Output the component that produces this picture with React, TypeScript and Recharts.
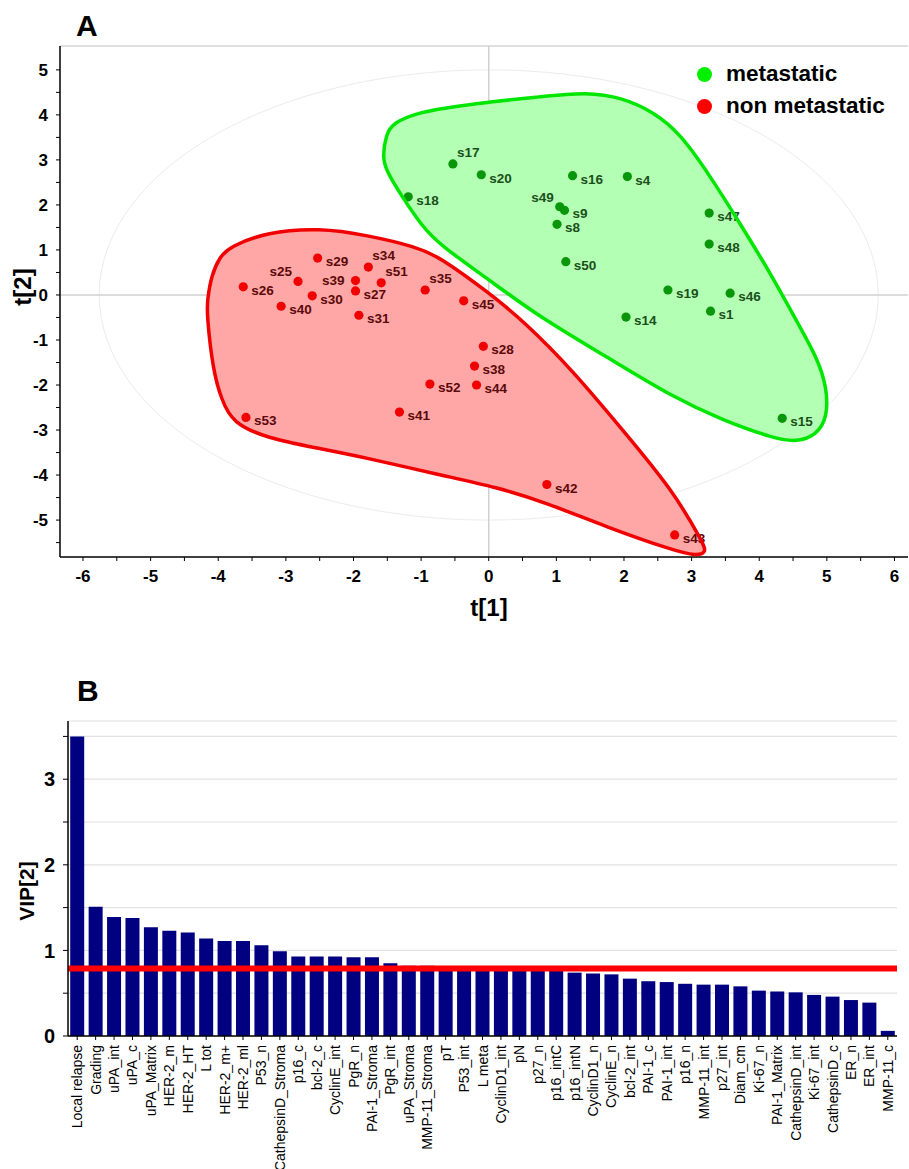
import React from "react";
import {
  Bar, BarChart, CartesianGrid, ReferenceArea, ReferenceLine, Scatter, ScatterChart, XAxis, YAxis,
} from "recharts";

const FONT = "'Liberation Sans', Arial, sans-serif";

// --- A: PLS-DA score plot t[1] / t[2]
const metastatic = [
  { name: "s17", x: -0.53, y: 2.91 }, { name: "s20", x: -0.11, y: 2.67 },
  { name: "s16", x: 1.24, y: 2.65 }, { name: "s4", x: 2.05, y: 2.63 },
  { name: "s49", x: 1.05, y: 1.96 }, { name: "s9", x: 1.12, y: 1.88 },
  { name: "s8", x: 1.01, y: 1.57 }, { name: "s47", x: 3.26, y: 1.82 },
  { name: "s48", x: 3.26, y: 1.13 }, { name: "s50", x: 1.14, y: 0.74 },
  { name: "s19", x: 2.65, y: 0.11 }, { name: "s46", x: 3.57, y: 0.04 },
  { name: "s1", x: 3.28, y: -0.36 }, { name: "s14", x: 2.03, y: -0.49 },
  { name: "s15", x: 4.34, y: -2.74 }, { name: "s18", x: -1.19, y: 2.18 },
];

const nonMetastatic = [
  { name: "s26", x: -3.63, y: 0.18 }, { name: "s25", x: -2.82, y: 0.3 },
  { name: "s29", x: -2.53, y: 0.82 }, { name: "s30", x: -2.61, y: -0.02 },
  { name: "s40", x: -3.07, y: -0.25 }, { name: "s39", x: -1.97, y: 0.32 },
  { name: "s27", x: -1.97, y: 0.09 }, { name: "s34", x: -1.78, y: 0.62 },
  { name: "s51", x: -1.59, y: 0.27 }, { name: "s31", x: -1.92, y: -0.45 },
  { name: "s35", x: -0.94, y: 0.11 }, { name: "s52", x: -0.87, y: -1.98 },
  { name: "s41", x: -1.32, y: -2.6 }, { name: "s53", x: -3.59, y: -2.72 },
  { name: "s45", x: -0.37, y: -0.13 }, { name: "s28", x: -0.08, y: -1.14 },
  { name: "s38", x: -0.21, y: -1.58 }, { name: "s44", x: -0.18, y: -2.0 },
  { name: "s42", x: 0.86, y: -4.21 }, { name: "s43", x: 2.75, y: -5.33 },
];

// hand traced group outlines (score units)
const greenHull = [
  { x: -1.57, y: 3.07 }, { x: -1.52, y: 3.56 }, { x: -1.42, y: 3.82 }, { x: -1.02, y: 4.07 },
  { x: -0.43, y: 4.2 }, { x: 0.01, y: 4.29 }, { x: 0.75, y: 4.4 }, { x: 1.45, y: 4.51 },
  { x: 1.98, y: 4.38 }, { x: 2.43, y: 4.07 }, { x: 2.83, y: 3.6 }, { x: 3.31, y: 2.56 },
  { x: 3.71, y: 1.6 }, { x: 4.2, y: 0.4 }, { x: 4.6, y: -0.71 }, { x: 4.85, y: -1.38 },
  { x: 5.0, y: -2.04 }, { x: 5.01, y: -2.71 }, { x: 4.85, y: -3.11 }, { x: 4.56, y: -3.27 },
  { x: 4.2, y: -3.18 }, { x: 3.46, y: -2.78 }, { x: 2.72, y: -2.27 }, { x: 1.75, y: -1.38 },
  { x: 0.75, y: -0.49 }, { x: 0.01, y: 0.33 }, { x: -0.72, y: 1.11 }, { x: -0.98, y: 1.51 },
  { x: -1.32, y: 2.27 }, { x: -1.52, y: 2.78 },
];

const redHull = [
  { x: -3.83, y: 1.07 }, { x: -3.98, y: 0.84 }, { x: -4.1, y: 0.44 }, { x: -4.16, y: -0.11 },
  { x: -4.17, y: -0.4 }, { x: -4.08, y: -1.67 }, { x: -3.95, y: -2.33 }, { x: -3.79, y: -2.84 },
  { x: -3.28, y: -3.18 }, { x: -2.54, y: -3.4 }, { x: -1.8, y: -3.62 }, { x: -0.72, y: -4.0 },
  { x: 0.12, y: -4.27 }, { x: 0.86, y: -4.62 }, { x: 1.75, y: -5.16 }, { x: 2.72, y: -5.67 },
  { x: 3.08, y: -5.8 }, { x: 3.22, y: -5.71 }, { x: 3.17, y: -5.51 }, { x: 2.72, y: -4.33 },
  { x: 1.98, y: -3.0 }, { x: 1.24, y: -1.67 }, { x: 0.5, y: -0.56 }, { x: 0.01, y: 0.04 },
  { x: -0.72, y: 0.84 }, { x: -1.07, y: 1.07 }, { x: -1.8, y: 1.33 }, { x: -2.5, y: 1.49 },
  { x: -3.28, y: 1.4 },
];

const t2Ellipse = { rx: 5.76, ry: 5.0 };
const t1Ticks = [-6, -5.5, -5, -4.5, -4, -3.5, -3, -2.5, -2, -1.5, -1, -0.5, 0, 0.5, 1, 1.5, 2, 2.5, 3, 3.5, 4, 4.5, 5, 5.5, 6];
const t2Ticks = [-5.5, -5, -4.5, -4, -3.5, -3, -2.5, -2, -1.5, -1, -0.5, 0, 0.5, 1, 1.5, 2, 2.5, 3, 3.5, 4, 4.5, 5];
const T1_DOMAIN = [-6.34, 6.2];
const T2_DOMAIN = [-5.82, 5.53];

// where the sample label sits relative to its dot (default: right)
const labelSpot: Record<string, string> = {
  s17: "ur", s49: "ul", s25: "ul", s39: "l", s34: "ur", s51: "ur", s35: "ur",
};

// --- B: VIP[2]
const vipNames = [
  "Local relapse", "Grading", "uPA_int", "uPA_c", "uPA_Matrix", "HER-2_m", "HER-2_HT", "L tot",
  "HER-2_m+", "HER-2_ml", "P53_n", "CathepsinD_Stroma", "p16_c", "bcl-2_c", "CyclinE_int", "PgR_n",
  "PAI-1_Stroma", "PgR_int", "uPA_Stroma", "MMP-11_Stroma", "pT", "P53_int", "L meta", "CyclinD1_int",
  "pN", "p27_n", "p16_intC", "p16_intN", "CyclinD1_n", "CyclinE_n", "bcl-2_int", "PAI-1_c",
  "PAI-1_int", "p16_n", "MMP-11_int", "p27_int", "Diam_cm", "Ki-67_n", "PAI-1_Matrix",
  "CathepsinD_int", "Ki-67_int", "CathepsinD_c", "ER_n", "ER_int", "MMP-11_c",
];
const vipValues = [
  3.5, 1.51, 1.39, 1.38, 1.27, 1.23, 1.21, 1.14,
  1.11, 1.11, 1.06, 0.99, 0.93, 0.93, 0.93, 0.92,
  0.92, 0.85, 0.82, 0.82, 0.81, 0.81, 0.8, 0.8,
  0.79, 0.79, 0.78, 0.74, 0.73, 0.72, 0.67, 0.64,
  0.63, 0.61, 0.6, 0.6, 0.58, 0.53, 0.52,
  0.51, 0.48, 0.46, 0.42, 0.39, 0.06,
];
const vipTicks = [0, 0.5, 1, 1.5, 2, 2.5, 3, 3.5];
const vipCutoff = 0.79;

const vipData = vipNames.map((name, i) => ({ name, vip: vipValues[i] }));

const intOnly = (v: number) => (Number.isInteger(v) ? String(v) : "");

function samplePoint(dot: string, text: string) {
  return (p: any) => {
    const { cx, cy } = p;
    const name = p.payload.name;
    const spot = labelSpot[name] || "r";
    let tx = cx + 8, ty = cy + 8, anchor = "start";
    if (spot === "ur") { tx = cx + 4; ty = cy - 7; }
    if (spot === "ul") { tx = cx - 6; ty = cy - 5; anchor = "end"; }
    if (spot === "l") { tx = cx - 11; ty = cy + 4; anchor = "end"; }
    return (
      <g>
        <circle cx={cx} cy={cy} r={4.6} fill={dot} />
        <text x={tx} y={ty} textAnchor={anchor} fill={text} fontSize={13.5} fontWeight="bold" fontFamily={FONT}>
          {name}
        </text>
      </g>
    );
  };
}

const noDot = () => <g />;

function ScorePlot() {
  const tick = { fontSize: 17, fontWeight: "bold", fill: "#000", fontFamily: FONT };
  return (
    <ScatterChart width={909} height={640} margin={{ top: 46, right: 1, left: 0, bottom: 0 }}>
      <XAxis
        type="number" dataKey="x" domain={T1_DOMAIN} ticks={t1Ticks} allowDataOverflow
        tickFormatter={intOnly} tick={tick} tickSize={4} tickMargin={9} height={83}
        axisLine={{ stroke: "#000", strokeWidth: 1.5 }} tickLine={{ stroke: "#000" }}
        label={{
          content: ({ viewBox }: any) => (
            <text x={viewBox.x + viewBox.width / 2 + 5} y={viewBox.y + 59} textAnchor="middle"
              fontSize={24} fontWeight="bold" fontFamily={FONT} fill="#000">t[1]</text>
          ),
        }}
      />
      <YAxis
        type="number" dataKey="y" domain={T2_DOMAIN} ticks={t2Ticks} allowDataOverflow
        tickFormatter={intOnly} tick={tick} tickSize={4} tickMargin={8} width={60}
        axisLine={{ stroke: "#000", strokeWidth: 1.5 }} tickLine={{ stroke: "#000" }}
        label={{
          content: ({ viewBox }: any) => {
            const x = viewBox.x + 31, y = viewBox.y + 241;
            return (
              <text x={x} y={y} transform={`rotate(-90, ${x}, ${y})`} textAnchor="middle"
                fontSize={24} fontWeight="bold" fontFamily={FONT} fill="#000">t[2]</text>
            );
          },
        }}
      />
      <ReferenceLine y={T2_DOMAIN[1]} stroke="#d4d4d4" strokeWidth={1.5} />
      <ReferenceArea
        x1={-t2Ellipse.rx} x2={t2Ellipse.rx} y1={-t2Ellipse.ry} y2={t2Ellipse.ry} ifOverflow="visible"
        shape={(p: any) => (
          <ellipse cx={p.x + p.width / 2} cy={p.y + p.height / 2} rx={p.width / 2} ry={p.height / 2}
            fill="none" stroke="#ececec" strokeWidth={1} />
        )}
      />
      <ReferenceLine y={0} stroke="#d0d0d0" strokeWidth={1.5} />
      <ReferenceLine x={0} stroke="#d0d0d0" strokeWidth={1.5} />

      <Scatter data={greenHull} shape={noDot} line={{ stroke: "none", fill: "#b3ffb3" }}
        lineType="joint" lineJointType="basisClosed" isAnimationActive={false} />
      <Scatter data={redHull} shape={noDot} line={{ stroke: "none", fill: "#ffa6a6" }}
        lineType="joint" lineJointType="basisClosed" isAnimationActive={false} />

      <Scatter data={metastatic} shape={samplePoint("#0a960a", "#1b4f1b")} isAnimationActive={false} />
      <Scatter data={nonMetastatic} shape={samplePoint("#f00000", "#5a0a0a")} isAnimationActive={false} />

      <Scatter data={greenHull} shape={noDot} line={{ stroke: "#00e600", strokeWidth: 3.5, fill: "none" }}
        lineType="joint" lineJointType="basisClosed" isAnimationActive={false} />
      <Scatter data={redHull} shape={noDot} line={{ stroke: "#f00000", strokeWidth: 3.5, fill: "none" }}
        lineType="joint" lineJointType="basisClosed" isAnimationActive={false} />
    </ScatterChart>
  );
}

function VarTick({ x, y, payload }: any) {
  return (
    <text x={x} y={y} dy={5} transform={`rotate(-90, ${x}, ${y})`} textAnchor="end"
      fontSize={14} fontFamily={FONT} fill="#000">
      {payload.value}
    </text>
  );
}

function VipPlot() {
  return (
    <BarChart width={909} height={509} data={vipData} barCategoryGap="12%"
      margin={{ top: 61, right: 12, left: 0, bottom: 0 }}>
      <CartesianGrid vertical={false} stroke="#e2e2e2" strokeWidth={1.2} />
      <XAxis dataKey="name" interval={0} tick={<VarTick />} tickSize={4} tickMargin={5} height={133}
        axisLine={{ stroke: "#000", strokeWidth: 1.5 }} tickLine={{ stroke: "#000" }} />
      <YAxis
        type="number" domain={[0, 3.68]} ticks={vipTicks} allowDataOverflow tickFormatter={intOnly}
        tick={{ fontSize: 20, fontWeight: "bold", fill: "#000", fontFamily: FONT }}
        tickSize={5} tickMargin={8} width={68}
        axisLine={{ stroke: "#000", strokeWidth: 1.5 }} tickLine={{ stroke: "#000" }}
        label={{
          content: ({ viewBox }: any) => {
            const x = viewBox.x + 34, y = viewBox.y + 170;
            return (
              <text x={x} y={y} transform={`rotate(-90, ${x}, ${y})`} textAnchor="middle"
                fontSize={21} fontWeight="bold" fontFamily={FONT} fill="#000">VIP[2]</text>
            );
          },
        }}
      />
      <Bar dataKey="vip" fill="#000080" isAnimationActive={false} />
      <ReferenceLine y={vipCutoff} stroke="#ff0000" strokeWidth={6} />
    </BarChart>
  );
}

const panelLetter: React.CSSProperties = {
  position: "absolute", fontFamily: FONT, fontWeight: "bold", fontSize: 30, lineHeight: 1, color: "#000",
};

export default function App() {
  return (
    <div style={{ position: "absolute", left: 0, top: 0, width: 909, height: 1169, background: "#fff", fontFamily: FONT }}>
      <div style={{ position: "absolute", left: 0, top: 0 }}>
        <ScorePlot />
      </div>
      <div style={{ ...panelLetter, left: 76, top: 11 }}>A</div>
      <div style={{ position: "absolute", left: 697, top: 58, fontWeight: "bold", fontSize: 22.5, lineHeight: "32px" }}>
        {[["metastatic", "#00f000"], ["non metastatic", "#ff0000"]].map(([label, c]) => (
          <div key={label} style={{ display: "flex", alignItems: "center" }}>
            <span style={{ width: 15, height: 15, borderRadius: "50%", background: c, display: "inline-block", marginRight: 14 }} />
            <span>{label}</span>
          </div>
        ))}
      </div>

      <div style={{ position: "absolute", left: 0, top: 660 }}>
        <VipPlot />
      </div>
      <div style={{ ...panelLetter, left: 77, top: 676 }}>B</div>
    </div>
  );
}
